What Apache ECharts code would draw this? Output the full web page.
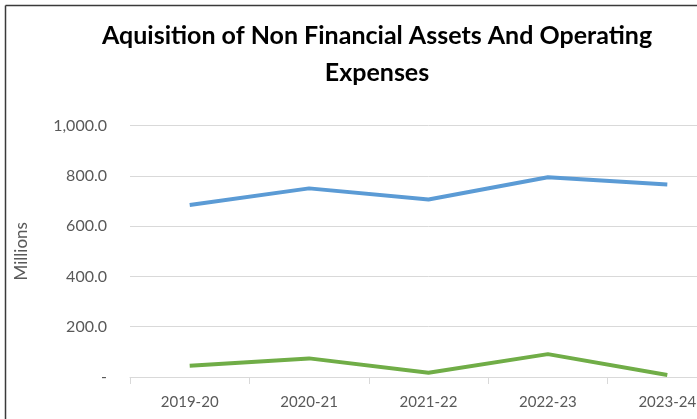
<!DOCTYPE html>
<html>
<head>
<meta charset="utf-8">
<script src="https://cdn.jsdelivr.net/npm/echarts@6/dist/echarts.min.js"></script>
<style>
  html, body { margin: 0; padding: 0; background: #ffffff; overflow: hidden; }
  #wrap { width: 697px; height: 419px; overflow: hidden; position: relative; }
  #chart { width: 740px; height: 419px; }
</style>
</head>
<body>
<div id="wrap"><div id="chart"></div></div>
<script>
// Fiscal years on the category axis
const years = ['2019-20', '2020-21', '2021-22', '2022-23', '2023-24'];
// Values in millions
const acquisitionSeries = [684, 750, 706, 794, 765];
const operatingSeries = [45, 74, 17, 91, 8];
// Value axis ticks
const yTicks = [0, 200, 400, 600, 800, 1000];

const chart = echarts.init(document.getElementById('chart'), null, { renderer: 'canvas' });

const fmt = v => v === 0 ? '-' : v.toLocaleString('en-US', { minimumFractionDigits: 1, maximumFractionDigits: 1 });

chart.setOption({
  backgroundColor: '#ffffff',
  animation: false,
  title: {
    text: 'Aquisition of Non Financial Assets And Operating\nExpenses',
    left: 372,
    top: 12,
    textAlign: 'center',
    textStyle: {
      fontFamily: 'Lato',
      fontWeight: 'bold',
      fontSize: 25,
      lineHeight: 37,
      color: '#000000'
    }
  },
  grid: { left: 130, right: 13, top: 125.5, bottom: 42, containLabel: false },
  xAxis: {
    type: 'category',
    data: years,
    boundaryGap: true,
    axisLine: { lineStyle: { color: '#d9d9d9', width: 1 } },
    axisTick: { show: true, length: 7, lineStyle: { color: '#d9d9d9' } },
    axisLabel: { color: '#595959', fontFamily: 'Lato', fontSize: 15, margin: 18 }
  },
  yAxis: {
    type: 'value',
    min: yTicks[0],
    max: yTicks[yTicks.length - 1],
    interval: 200,
    name: 'Millions',
    nameLocation: 'middle',
    nameGap: 100,
    nameRotate: 90,
    nameTextStyle: { color: '#595959', fontFamily: 'Lato', fontSize: 17 },
    axisLine: { show: false },
    axisTick: { show: false },
    splitLine: { lineStyle: { color: '#d9d9d9', width: 1 } },
    axisLabel: { color: '#595959', fontFamily: 'Lato', fontSize: 16, margin: 23, formatter: fmt }
  },
  series: [
    {
      name: 'Acquisition of Non Financial Assets',
      type: 'line',
      data: acquisitionSeries,
      showSymbol: false,
      lineStyle: { color: '#5b9bd5', width: 4 },
      itemStyle: { color: '#5b9bd5' }
    },
    {
      name: 'Operating Expenses',
      type: 'line',
      data: operatingSeries,
      showSymbol: false,
      lineStyle: { color: '#70ad47', width: 4 },
      itemStyle: { color: '#70ad47' }
    }
  ],
  graphic: [
    { type: 'line', shape: { x1: 5.5, y1: 5.5, x2: 740, y2: 5.5 }, style: { stroke: '#3a3a3a', lineWidth: 1.5 } },
    { type: 'line', shape: { x1: 5.5, y1: 5.5, x2: 5.5, y2: 419 }, style: { stroke: '#3a3a3a', lineWidth: 1.5 } }
  ]
});
</script>
</body>
</html>
